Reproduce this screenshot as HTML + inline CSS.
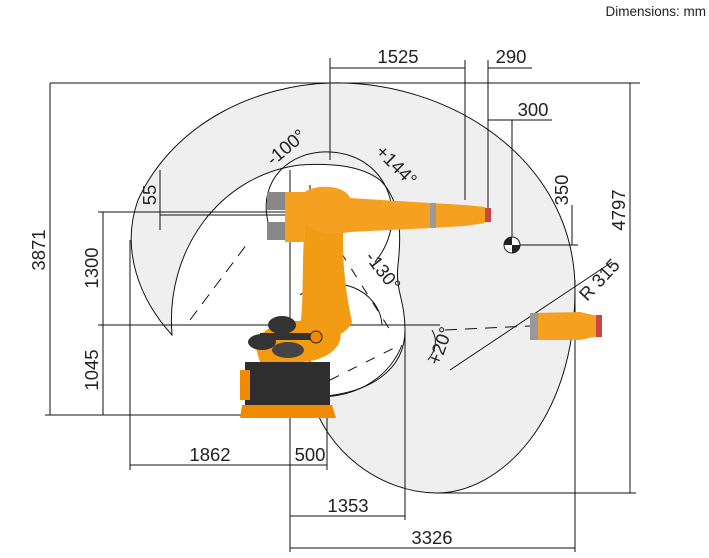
<!DOCTYPE html>
<html><head><meta charset="utf-8"><style>
html,body{margin:0;padding:0;background:#fff;}
svg{display:block;font-family:"Liberation Sans",Arial,sans-serif;}
</style></head><body>
<svg width="709" height="558" viewBox="0 0 709 558" xmlns="http://www.w3.org/2000/svg">
<path d="M172,335 C140,300 120,250 138,200 C175,120 260,85 330,83 C450,80 575,160 575,290 C575,420 500,493 437,493 C380,493 325,450 312,397 C370,395 405,370 405,330 C405,300 395,290 398,265 C402,230 400,200 380,180 C360,165 330,163 300,165 C220,175 165,250 172,335 Z" fill="#efefef" stroke="#111" stroke-width="1"/>
<g stroke="#111" stroke-width="1" fill="none">
<line x1="50" y1="83" x2="640" y2="83"/>
<line x1="50" y1="83" x2="50" y2="415"/>
<line x1="45" y1="415" x2="290" y2="415"/>
<line x1="630" y1="83" x2="630" y2="493"/>
<line x1="437" y1="493" x2="636" y2="493"/>
<line x1="330" y1="58" x2="330" y2="160"/>
<line x1="330" y1="68" x2="465" y2="68"/>
<line x1="465" y1="60" x2="465" y2="200"/>
<line x1="488" y1="60" x2="488" y2="210"/>
<line x1="488" y1="68" x2="532" y2="68"/>
<line x1="488" y1="120" x2="552" y2="120"/>
<line x1="512" y1="120" x2="512" y2="240"/>
<line x1="572" y1="205" x2="572" y2="245"/>
<line x1="512" y1="245" x2="578" y2="245"/>
<line x1="103" y1="212" x2="103" y2="415"/>
<line x1="98" y1="212" x2="330" y2="212"/>
<line x1="160" y1="215" x2="360" y2="215"/>
<line x1="98" y1="325" x2="440" y2="325"/>
<line x1="160" y1="170" x2="160" y2="230"/>
<line x1="130" y1="240" x2="130" y2="470"/>
<line x1="130" y1="465" x2="327" y2="465"/>
<line x1="327" y1="415" x2="327" y2="470"/>
<line x1="290" y1="170" x2="290" y2="552"/>
<line x1="290" y1="516" x2="405" y2="516"/>
<line x1="405" y1="330" x2="405" y2="520"/>
<line x1="290" y1="548" x2="575" y2="548"/>
<line x1="575" y1="280" x2="575" y2="552"/>
<line x1="310" y1="185" x2="310" y2="400"/>
<path d="M268,222 C258,180 290,150 330,152 C390,155 410,220 375,262"/>
<path d="M300,295 C335,270 380,290 382,325"/>
<path d="M315,397 C360,398 390,375 402,345"/>
<path d="M432,330 C438,340 436,350 428,360"/>
<path d="M450,370 L612,262"/>
<path stroke-dasharray="12,8" d="M190,320 L250,240 M330,215 L270,230 M445,330 L530,326"/>
<path stroke-dasharray="10,10" d="M330,235 L390,330 M330,380 L400,345"/>
</g>
<g>
<rect x="245" y="362" width="85" height="45" fill="#2e2e2e"/>
<path d="M242,405 L332,405 L336,418 L240,418 Z" fill="#f08a00"/>
<rect x="240" y="370" width="10" height="30" fill="#f08a00"/>
<path d="M255,345 C260,325 290,320 315,320 L340,330 C345,350 320,362 300,362 L260,362 Z" fill="#f39a10"/>
<path d="M308,200 C300,250 305,290 300,330 C310,345 345,340 352,322 C345,290 340,250 345,200 Z" fill="#f29b14"/>
<path d="M300,198 C305,183 345,183 350,198 L430,203 L465,205 L485,207 L485,223 L465,226 L430,228 L350,232 C330,236 305,232 300,217 Z" fill="#f5a020"/>
<rect x="430" y="203" width="6" height="25" fill="#999"/>
<rect x="485" y="208" width="6" height="14" fill="#c44"/>
<rect x="267" y="192" width="33" height="18" fill="#888"/>
<rect x="267" y="222" width="33" height="18" fill="#888"/>
<rect x="285" y="192" width="20" height="50" fill="#f5a020"/>
<ellipse cx="282" cy="325" rx="14" ry="9" fill="#333"/>
<ellipse cx="262" cy="342" rx="14" ry="8" fill="#333"/>
<ellipse cx="288" cy="350" rx="16" ry="8" fill="#444"/>
<rect x="260" y="333" width="50" height="7" fill="#333"/>
<circle cx="316" cy="337" r="6" fill="#f08a00" stroke="#222"/>
<path d="M530,313 L580,312 L598,316 L598,336 L580,340 L530,340 Z" fill="#f5a020"/>
<rect x="530" y="313" width="8" height="27" fill="#999"/>
<rect x="596" y="315" width="6" height="22" fill="#c44"/>
</g>
<circle cx="512" cy="245" r="8" fill="#fff" stroke="#222"/>
<path d="M512,237 A8,8 0 0 0 504,245 L512,245 Z M512,253 A8,8 0 0 0 520,245 L512,245 Z" fill="#222"/>
<g fill="#222" font-size="18.5">
<text x="706" y="16" font-size="13.5" text-anchor="end">Dimensions: mm</text>
<text x="398" y="63" text-anchor="middle">1525</text>
<text x="511" y="63" text-anchor="middle">290</text>
<text x="533" y="116" text-anchor="middle">300</text>
<text x="210" y="461" text-anchor="middle">1862</text>
<text x="310" y="461" text-anchor="middle">500</text>
<text x="348" y="512" text-anchor="middle">1353</text>
<text x="432" y="544" text-anchor="middle">3326</text>
<text transform="translate(45,250) rotate(-90)" text-anchor="middle">3871</text>
<text transform="translate(625,210) rotate(-90)" text-anchor="middle">4797</text>
<text transform="translate(98,268) rotate(-90)" text-anchor="middle">1300</text>
<text transform="translate(98,370) rotate(-90)" text-anchor="middle">1045</text>
<text transform="translate(156,195) rotate(-90)" text-anchor="middle">55</text>
<text transform="translate(568,190) rotate(-90)" text-anchor="middle">350</text>
<text transform="translate(290,152) rotate(-40)" text-anchor="middle">-100°</text>
<text transform="translate(392,170) rotate(45)" text-anchor="middle">+144°</text>
<text transform="translate(378,275) rotate(52)" text-anchor="middle">-130°</text>
<text transform="translate(446,348) rotate(-70)" text-anchor="middle">+20°</text>
<text transform="translate(604,284) rotate(-47)" text-anchor="middle">R 315</text>
</g>
</svg>
</body></html>
